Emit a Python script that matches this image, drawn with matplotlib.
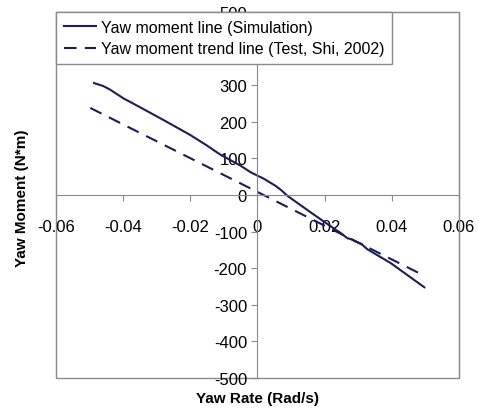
import matplotlib
matplotlib.use("Agg")
import matplotlib.pyplot as plt
from matplotlib.patches import Rectangle

# simulation curve
sim_rate = [-0.0487, -0.0460, -0.0439, -0.0399, -0.0350, -0.0280, -0.0200,
            -0.0150, -0.0110, -0.0050, -0.0020, 0.0020, 0.0054, 0.0070,
            0.0089, 0.0158, 0.0208, 0.0248, 0.0268, 0.0280, 0.0290, 0.0310,
            0.0327, 0.0397, 0.0497]
sim_moment = [306, 298, 288, 264, 240, 205, 164,
              135, 110, 80, 62, 44, 25, 14,
              -2, -47, -79, -104, -118, -121, -126, -134,
              -148, -186, -252]

# test trend line (Shi, 2002)
trend_rate = [-0.0498, 0.0487]
trend_moment = [238, -216]

xticks = [-0.06, -0.04, -0.02, 0, 0.02, 0.04, 0.06]
xticklabels = ["-0.06", "-0.04", "-0.02", "0", "0.02", "0.04", "0.06"]
yticks = [-500, -400, -300, -200, -100, 0, 100, 200, 300, 400, 500]

plt.rcParams['font.family'] = ['Liberation Sans', 'DejaVu Sans']
plt.rcParams['axes.unicode_minus'] = False
line_color = "#1c1c5c"
axis_color = "#8a8a8a"

fig = plt.figure(figsize=(4.79, 4.14), dpi=100)
ax = fig.add_axes([0.117, 0.0845, 0.841, 0.884])

ax.plot(sim_rate, sim_moment, color=line_color, lw=1.5,
        label="Yaw moment line (Simulation)")
ax.plot(trend_rate, trend_moment, color=line_color, lw=1.5, dashes=(6, 4),
        label="Yaw moment trend line (Test, Shi, 2002)")

ax.set_xlim(-0.06, 0.06)
ax.set_ylim(-500, 500)

# axes cross at the origin
for side in ("left", "bottom"):
    ax.spines[side].set_position(("data", 0))
    ax.spines[side].set_color(axis_color)
for side in ("top", "right"):
    ax.spines[side].set_color(axis_color)
ax.add_patch(Rectangle((0, 0), 1, 1, transform=ax.transAxes, fill=False,
                       edgecolor=axis_color, lw=1, clip_on=False))

ax.set_xticks(xticks)
ax.set_xticklabels(xticklabels)
ax.set_yticks(yticks)
ax.tick_params(axis="both", colors=axis_color, labelcolor="black",
               labelsize=12, length=4)
ax.tick_params(axis="x", pad=13)

fig.text(0.537, 0.02, "Yaw Rate (Rad/s)", ha="center", va="bottom",
         fontsize=11, fontweight="bold")
fig.text(0.045, 0.52, "Yaw Moment (N*m)", ha="center", va="center",
         rotation=90, fontsize=11, fontweight="bold")

leg = ax.legend(loc="upper left", bbox_to_anchor=(0, 1), borderaxespad=0,
                fancybox=False, fontsize=11.5, handlelength=2,
                handletextpad=0.3, labelspacing=0.4, borderpad=0.5,
                framealpha=1)
leg.get_frame().set_edgecolor(axis_color)

fig.savefig("out.png", dpi=100)
